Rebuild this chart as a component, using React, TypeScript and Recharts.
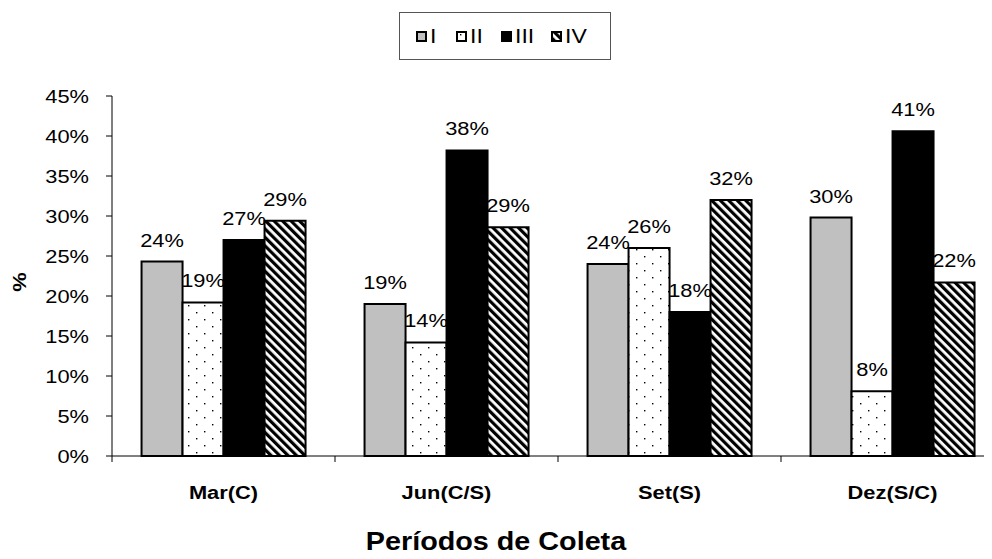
import React from 'react';
import { BarChart, Bar, XAxis, YAxis, Legend, LabelList, Label } from 'recharts';

const categories = ['Mar(C)', 'Jun(C/S)', 'Set(S)', 'Dez(S/C)'];
const seriesNames = ['I', 'II', 'III', 'IV'];
const serieI = [0.243, 0.19, 0.24, 0.298];
const serieII = [0.192, 0.142, 0.26, 0.081];
const serieIII = [0.27, 0.382, 0.18, 0.406];
const serieIV = [0.294, 0.286, 0.32, 0.217];
const yTicks = [0, 0.05, 0.1, 0.15, 0.2, 0.25, 0.3, 0.35, 0.4, 0.45];
const xTitle = 'Períodos de Coleta';
const yTitle = '%';

const data = categories.map((c, i) => ({
  cat: c,
  I: serieI[i],
  II: serieII[i],
  III: serieIII[i],
  IV: serieIV[i],
}));

const FONT = '"Liberation Sans", Arial, Helvetica, sans-serif';
const SX = 1.15;
const PLOT_BOTTOM = 448;

const fills = ['#c0c0c0', 'url(#dotPat)', '#000000', 'url(#hatchPat)'];

const StretchText = ({ x, y, anchor = 'middle', size = 19, bold = false, rotate = 0, children }: any) => (
  <text
    transform={`translate(${x},${y}) rotate(${rotate}) scale(${SX},1)`}
    x={0}
    y={0}
    textAnchor={anchor}
    fontFamily={FONT}
    fontSize={size}
    fontWeight={bold ? 'bold' : 'normal'}
    fill="#000"
  >
    {children}
  </text>
);

const YTick = (props: any) => {
  const { x, y, payload } = props;
  return (
    <StretchText x={x - 17} y={y + 7} anchor="end">
      {`${Math.round(payload.value * 100)}%`}
    </StretchText>
  );
};

const XTick = (props: any) => {
  const { x, payload, index, visibleTicksCount } = props;
  const half = payload && payload.offset ? payload.offset : 111.5;
  const last = index === (visibleTicksCount || categories.length) - 1;
  return (
    <g>
      <line x1={x - half} x2={x - half} y1={PLOT_BOTTOM} y2={PLOT_BOTTOM + 6} stroke="#000" strokeWidth={1} />
      {last && <line x1={x + half} x2={x + half} y1={PLOT_BOTTOM} y2={PLOT_BOTTOM + 6} stroke="#000" strokeWidth={1} />}
      <StretchText x={x} y={PLOT_BOTTOM + 43} bold>
        {payload.value}
      </StretchText>
    </g>
  );
};

const BarLabel = (props: any) => {
  const { x, y, width, value } = props;
  return (
    <StretchText x={x + width / 2} y={y - 15}>
      {`${Math.round(value * 100)}%`}
    </StretchText>
  );
};

const Swatch = ({ fill }: { fill: string }) => (
  <svg width={11} height={11} style={{ display: 'block' }}>
    <rect x={1} y={1} width={9} height={9} fill={fill} stroke="#000" strokeWidth={2} />
  </svg>
);

const LegendBox = () => (
  <div
    style={{
      position: 'absolute',
      left: 391,
      top: 4,
      width: 212,
      height: 48,
      boxSizing: 'border-box',
      border: '1px solid #555',
      background: '#fff',
      display: 'flex',
      alignItems: 'center',
      paddingLeft: 16,
      fontFamily: FONT,
      fontSize: 20,
    }}
  >
    {seriesNames.map((n, i) => (
      <div key={n} style={{ display: 'flex', alignItems: 'center', marginRight: 20 }}>
        <Swatch fill={fills[i]} />
        <span style={{ marginLeft: 3, display: 'inline-block', transform: `scaleX(${SX})`, transformOrigin: 'left center', lineHeight: '20px' }}>{n}</span>
      </div>
    ))}
  </div>
);

export default function App() {
  return (
    <div style={{ width: 984, height: 551, overflow: 'hidden', position: 'relative' }}>
      <BarChart
        width={1000}
        height={551}
        data={data}
        margin={{ top: 88, right: 4, bottom: 43, left: 0 }}
        barCategoryGap="13.25%"
        barGap={0}
      >
        <defs>
          <pattern id="dotPat" patternUnits="userSpaceOnUse" width={16} height={14}>
            <rect x={0} y={0} width={16} height={14} fill="#fff" />
            <rect x={4} y={3} width={1.4} height={1.4} fill="#000" />
            <rect x={12} y={10} width={1.4} height={1.4} fill="#000" />
          </pattern>
          <pattern id="hatchPat" patternUnits="userSpaceOnUse" width={6} height={6} patternTransform="rotate(-45)">
            <rect x={0} y={0} width={6} height={6} fill="#fff" />
            <rect x={0} y={0} width={3.2} height={6} fill="#000" />
          </pattern>
        </defs>
        <XAxis
          dataKey="cat"
          height={60}
          tickLine={false}
          axisLine={{ stroke: '#000', strokeWidth: 1 }}
          tick={<XTick />}
          interval={0}
        >
          <Label
            content={() => (
              <StretchText x={488} y={542} size={25} bold>
                {xTitle}
              </StretchText>
            )}
          />
        </XAxis>
        <YAxis
          width={104}
          domain={[0, 0.45]}
          ticks={yTicks}
          interval={0}
          tickSize={6}
          tickMargin={0}
          tick={<YTick />}
          tickLine={{ stroke: '#000', strokeWidth: 1 }}
          axisLine={{ stroke: '#000', strokeWidth: 1 }}
        >
          <Label
            content={() => (
              <StretchText x={18} y={274} size={19} bold rotate={-90}>
                {yTitle}
              </StretchText>
            )}
          />
        </YAxis>
        <Legend
          layout="horizontal"
          verticalAlign="middle"
          align="center"
          content={() => <LegendBox />}
          wrapperStyle={{ position: 'absolute', left: 0, top: 0, width: 0, height: 0 }}
        />
        {seriesNames.map((n, i) => (
          <Bar key={n} dataKey={n} fill={fills[i]} stroke="#000" strokeWidth={2} isAnimationActive={false}>
            <LabelList dataKey={n} content={<BarLabel />} />
          </Bar>
        ))}
      </BarChart>
    </div>
  );
}
